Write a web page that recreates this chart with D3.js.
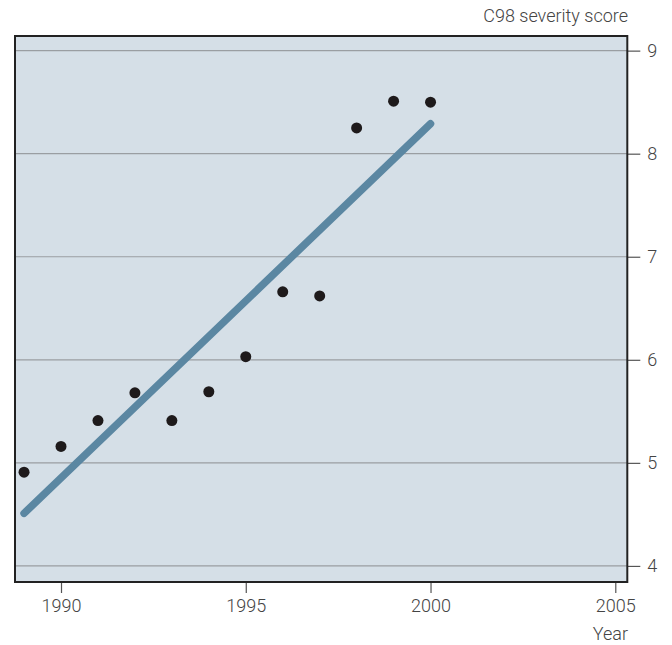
<!DOCTYPE html>
<html><head><meta charset="utf-8">
<script src="https://cdn.jsdelivr.net/npm/d3@7"></script>
<style>
html,body{margin:0;padding:0;background:#fff;}
text{font-family:"Roboto","Liberation Sans",sans-serif;font-weight:300;}
</style></head>
<body>
<svg id="c" width="672" height="645"></svg>
<script>
const years = [1989,1990,1991,1992,1993,1994,1995,1996,1997,1998,1999,2000];
const scores = [4.91,5.16,5.41,5.68,5.41,5.69,6.03,6.66,6.62,8.25,8.51,8.50];
const trendYears = [1989,2000];
const trendScores = [4.51,8.29];
const xTicks = [1990,1995,2000,2005];
const yTicks = [4,5,6,7,8,9];
const yTitle = "C98 severity score";
const xTitle = "Year";

const svg = d3.select("#c");
const L = 15, R = 627.3, T = 36, B = 582;
const x = d3.scaleLinear().domain([1988.755, 2005.325]).range([L, R]);
const y = d3.scaleLinear().domain([3.844, 9.142]).range([B, T]);

svg.append("rect").attr("x",L).attr("y",T).attr("width",R-L).attr("height",B-T)
  .attr("fill","#d5dfe7");

// gridlines
svg.append("g").selectAll("line").data(yTicks).join("line")
  .attr("x1",L).attr("x2",R).attr("y1",d=>y(d)).attr("y2",d=>y(d))
  .attr("stroke","#9a9ea2").attr("stroke-width",1.2);

// right axis
const ya = svg.append("g").attr("transform",`translate(${R},0)`)
  .call(d3.axisRight(y).tickValues(yTicks).tickSize(13).tickPadding(7).tickFormat(d3.format("d")));
ya.select(".domain").remove();
ya.selectAll("line").attr("stroke","#555").attr("stroke-width",1.2);
ya.selectAll("text").attr("fill","#444").attr("font-size",18);

// bottom axis
const xa = svg.append("g").attr("transform",`translate(0,${B})`)
  .call(d3.axisBottom(x).tickValues(xTicks).tickSize(11).tickPadding(6).tickFormat(d3.format("d")));
xa.select(".domain").remove();
xa.selectAll("line").attr("stroke","#555").attr("stroke-width",1.2);
xa.selectAll("text").attr("fill","#444").attr("font-size",18);

// trend line
svg.append("path")
  .datum(trendYears.map((d,i)=>[d,trendScores[i]]))
  .attr("d", d3.line().x(d=>x(d[0])).y(d=>y(d[1])))
  .attr("stroke","#5b87a2").attr("stroke-width",7.5).attr("stroke-linecap","round").attr("fill","none");

// points
svg.append("g").selectAll("circle").data(years).join("circle")
  .attr("cx",d=>x(d)).attr("cy",(d,i)=>y(scores[i])).attr("r",5.5).attr("fill","#1e1a1b");

// frame
svg.append("rect").attr("x",L).attr("y",T).attr("width",R-L).attr("height",B-T)
  .attr("fill","none").attr("stroke","#222").attr("stroke-width",2);

svg.append("text").attr("x",628).attr("y",22).attr("text-anchor","end")
  .attr("fill","#444").attr("font-size",18).text(yTitle);
svg.append("text").attr("x",628).attr("y",640).attr("text-anchor","end")
  .attr("fill","#444").attr("font-size",18).text(xTitle);
</script>
</body></html>
